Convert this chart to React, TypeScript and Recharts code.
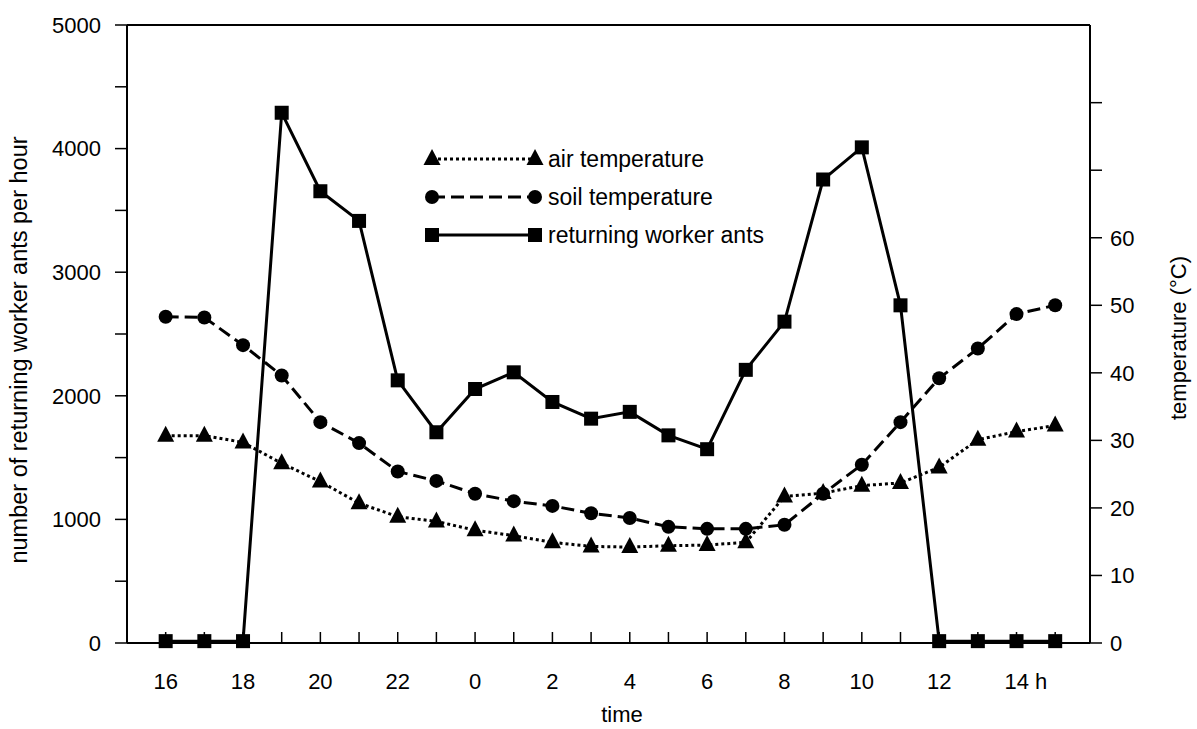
import { LineChart, Line, XAxis, YAxis, Legend, ReferenceLine, Label } from "recharts";

// hour of day, starting 16 h and running through the next afternoon
const hours = [16, 17, 18, 19, 20, 21, 22, 23, 0, 1, 2, 3, 4, 5, 6, 7, 8, 9, 10, 11, 12, 13, 14, 15];
const ants = [15, 15, 15, 4290, 3655, 3415, 2125, 1705, 2055, 2190, 1950, 1815, 1870, 1680, 1568, 2210, 2600, 3750, 4010, 2732, 15, 15, 15, 15];
const soilTemp = [48.3, 48.2, 44.1, 39.6, 32.7, 29.6, 25.4, 24.0, 22.1, 21.0, 20.3, 19.2, 18.5, 17.2, 16.9, 16.9, 17.5, 22.1, 26.4, 32.7, 39.2, 43.6, 48.7, 50.0];
const airTemp = [30.7, 30.7, 29.7, 26.6, 23.9, 20.7, 18.7, 18.0, 16.7, 15.9, 14.9, 14.3, 14.2, 14.4, 14.5, 14.9, 21.7, 22.2, 23.3, 23.7, 26.0, 30.1, 31.3, 32.2];

const antTicks = [0, 500, 1000, 1500, 2000, 2500, 3000, 3500, 4000, 4500, 5000];
const tempTicks = [0, 10, 20, 30, 40, 50, 60, 70, 80];
const tempLabelled = [0, 10, 20, 30, 40, 50, 60];

const FONT = "'Liberation Sans', Arial, Helvetica, sans-serif";

const data = hours.map((h, i) => ({ i, hour: h, ants: ants[i], soil: soilTemp[i], air: airTemp[i] }));

function hourLabel(h: number) {
  if (h % 2 !== 0) return "";
  return h === 14 ? "14 h" : String(h);
}

function HourTick(props: any) {
  const { x, y, payload } = props;
  const label = hourLabel(hours[payload.value]);
  const withUnit = label.endsWith(" h");
  return (
    <g>
      <line x1={x} x2={x} y1={y} y2={y - 11} stroke="#000" strokeWidth={1.5} />
      {label ? (
        <text x={withUnit ? x - 12 : x} y={y + 46} textAnchor={withUnit ? "start" : "middle"} fontSize={22} fontFamily={FONT} fill="#000">
          {label}
        </text>
      ) : null}
    </g>
  );
}

function Square(props: any) {
  const { cx, cy } = props;
  if (cx == null || cy == null) return null;
  return <rect x={cx - 7} y={cy - 7} width={14} height={14} fill="#000" />;
}

function Dot(props: any) {
  const { cx, cy } = props;
  if (cx == null || cy == null) return null;
  return <circle cx={cx} cy={cy} r={7} fill="#000" />;
}

function Triangle(props: any) {
  const { cx, cy } = props;
  if (cx == null || cy == null) return null;
  return <path d={`M${cx},${cy - 10} L${cx - 8.5},${cy + 6} L${cx + 8.5},${cy + 6} Z`} fill="#000" />;
}

const legendItems = [
  { name: "air temperature", dash: "3 3", marker: Triangle },
  { name: "soil temperature", dash: "13 6", marker: Dot },
  { name: "returning worker ants", dash: undefined, marker: Square },
];

function LegendBox() {
  return (
    <svg width={380} height={120}>
      {legendItems.map((it, k) => {
        const y = 19 + k * 38;
        const M = it.marker;
        return (
          <g key={it.name}>
            <line x1={12} x2={115} y1={y} y2={y} stroke="#000" strokeWidth={3} strokeDasharray={it.dash} />
            <M cx={12} cy={y} />
            <M cx={115} cy={y} />
            <text x={128} y={y + 8} fontSize={23} fontFamily={FONT} fill="#000">{it.name}</text>
          </g>
        );
      })}
    </svg>
  );
}

export default function App() {
  return (
    <div style={{ position: "absolute", left: 0, top: 0, width: 1197, height: 729, background: "#fff" }}>
      <LineChart width={1197} height={729} data={data} margin={{ top: 25, right: 0, bottom: 0, left: 0 }}>
        <XAxis
          dataKey="i"
          type="number"
          domain={[-1, 23.9]}
          ticks={hours.map((_, i) => i)}
          tick={<HourTick />}
          tickLine={false}
          tickSize={0}
          tickMargin={0}
          height={86}
          axisLine={{ stroke: "#000", strokeWidth: 2 }}
        >
          <Label content={() => <text x={622} y={722} textAnchor="middle" fontSize={22} fontFamily={FONT} fill="#000">time</text>} />
        </XAxis>
        <YAxis
          yAxisId="left"
          domain={[0, 5000]}
          ticks={antTicks}
          tickFormatter={(v) => (v % 1000 === 0 ? String(v) : "")}
          width={127}
          tickSize={12}
          tickMargin={14}
          tick={{ fontSize: 22, fontFamily: FONT, fill: "#000" }}
          tickLine={{ stroke: "#000", strokeWidth: 1.5 }}
          axisLine={{ stroke: "#000", strokeWidth: 2 }}
        >
          <Label
            content={() => (
              <text x={19} y={350} transform="rotate(-90 19 350)" textAnchor="middle" dominantBaseline="central" fontSize={23.5} fontFamily={FONT} fill="#000">
                number of returning worker ants per hour
              </text>
            )}
          />
        </YAxis>
        <YAxis
          yAxisId="right"
          orientation="right"
          domain={[0, 91.5]}
          ticks={tempTicks}
          tickFormatter={(v) => (tempLabelled.includes(v) ? String(v) : "")}
          width={107}
          tickSize={12}
          tickMargin={8}
          tick={{ fontSize: 22, fontFamily: FONT, fill: "#000" }}
          tickLine={{ stroke: "#000", strokeWidth: 1.5 }}
          axisLine={{ stroke: "#000", strokeWidth: 2 }}
        >
          <Label
            content={() => (
              <text x={1178} y={338} transform="rotate(-90 1178 338)" textAnchor="middle" dominantBaseline="central" fontSize={22} fontFamily={FONT} fill="#000">
                temperature (°C)
              </text>
            )}
          />
        </YAxis>
        <ReferenceLine yAxisId="left" y={5000} stroke="#000" strokeWidth={2} />
        <Legend layout="vertical" align="center" verticalAlign="middle" content={() => <LegendBox />} wrapperStyle={{ left: 420, top: 140, width: 380 }} />
        <Line yAxisId="right" type="linear" dataKey="air" stroke="#000" strokeWidth={3} strokeDasharray="3 3" dot={<Triangle />} activeDot={false} isAnimationActive={false} />
        <Line yAxisId="right" type="linear" dataKey="soil" stroke="#000" strokeWidth={3} strokeDasharray="13 6" dot={<Dot />} activeDot={false} isAnimationActive={false} />
        <Line yAxisId="left" type="linear" dataKey="ants" stroke="#000" strokeWidth={3} dot={<Square />} activeDot={false} isAnimationActive={false} />
      </LineChart>
    </div>
  );
}
